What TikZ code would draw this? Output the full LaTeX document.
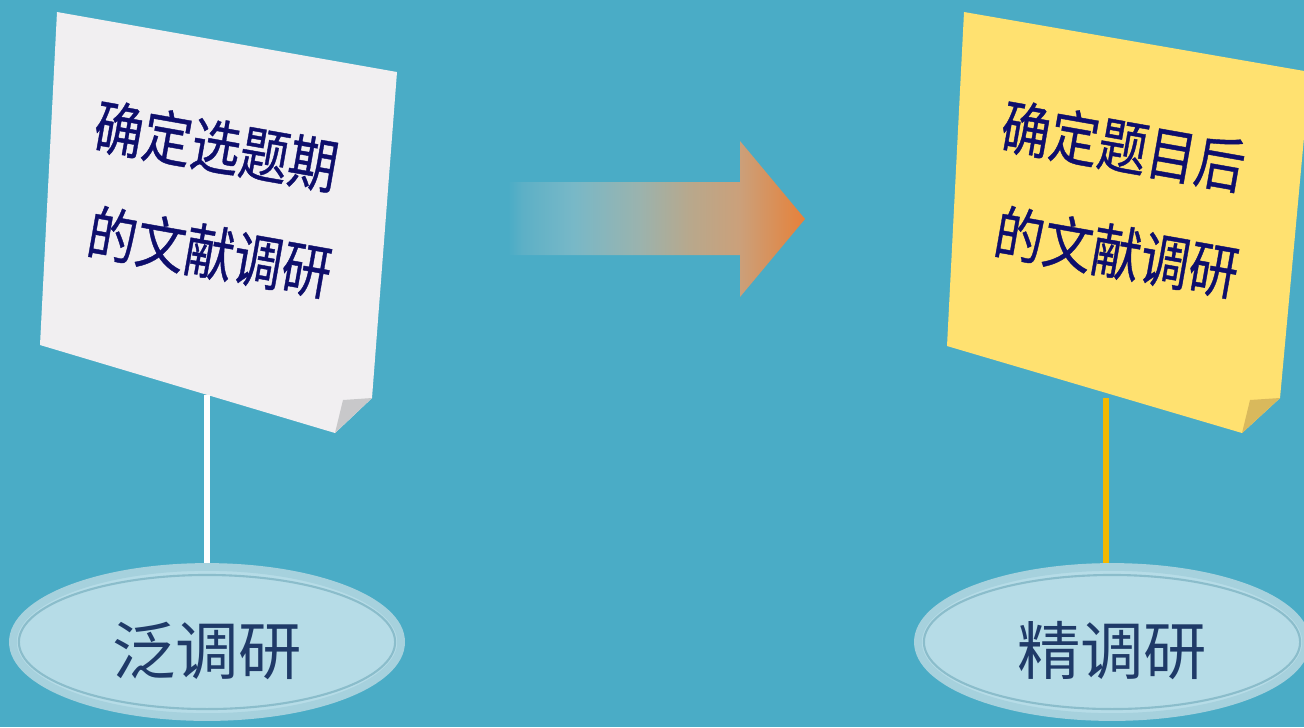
\documentclass[tikz,border=0pt]{standalone}
\usepackage{fontspec}
\setmainfont{Noto Sans CJK SC}
\newfontfamily\notefont{Noto Sans CJK SC}[FakeBold=0.7]
\usepackage{graphicx}
\usepackage{xcolor}
\definecolor{sea}{HTML}{4AACC6}
\definecolor{paper}{HTML}{F1EFF1}
\definecolor{papercurl}{HTML}{C8C8CA}
\definecolor{sticky}{HTML}{FFE170}
\definecolor{stickycurl}{HTML}{D9B95C}
\definecolor{ink}{HTML}{0E0E6C}
\definecolor{plateink}{HTML}{1F3A68}
\definecolor{plate}{HTML}{B6DCE7}
\definecolor{platerim}{HTML}{A6D1DD}
\definecolor{plateline}{HTML}{8BBDCB}
\definecolor{gold}{HTML}{F4B800}
\definecolor{fadeA}{HTML}{5DB0C6}
\definecolor{fadeB}{HTML}{78B8C7}
\definecolor{fadeC}{HTML}{9AB3AE}
\definecolor{fadeD}{HTML}{B8A88C}
\definecolor{fadeE}{HTML}{CBA07A}
\definecolor{fadeF}{HTML}{E08848}
\definecolor{fadeG}{HTML}{E8803A}
\usepackage{tikz}
\usetikzlibrary{shapes.geometric}
\pgfdeclarehorizontalshading{fadearrow}{100bp}{color(0bp)=(sea); color(25bp)=(sea);
  color(27.5bp)=(fadeA); color(36bp)=(fadeB); color(47bp)=(fadeC);
  color(55.6bp)=(fadeD); color(64bp)=(fadeE); color(72.5bp)=(fadeF);
  color(75bp)=(fadeG); color(100bp)=(fadeG)}
\newcommand{\tall}[1]{\scalebox{1}[1.2]{#1}}
\tikzset{
  notetext/.style ={rotate=-10,align=center,text=ink,inner sep=0pt,
                    font=\notefont\fontsize{14}{30}\selectfont},
  plate/.style    ={ellipse,draw=platerim,line width=2.2pt,fill=plate,
                    minimum width=3.88cm,minimum height=1.5cm,inner sep=0pt,
                    text height=0.72cm,text depth=0.08cm,
                    text=plateink,font=\fontsize{18}{20}\selectfont},
  platering/.style={draw=plateline,line width=0.6pt},
  pole/.style     ={line width=1.5pt},
}

\begin{document}
\begin{tikzpicture}[x=0.01cm,y=-0.01cm]
\useasboundingbox (0,0) rectangle (1304,727);
\fill[sea] (0,0) rectangle (1304,727);
%---------------- LEFT: white note
\fill[paper] (57,12) -- (397,72) -- (372,398) -- (335,433) -- (40,345) -- cycle;
\fill[papercurl] (343,400) -- (372,398) -- (335,433) -- cycle;
\node[notetext] (ltext) at (213,199)
  {\tall{确定选题期}\hspace*{0.12cm}\\\hspace*{0.12cm}\tall{的文献调研}};
\node[plate] (lplate) at (207,642) {泛调研};
\draw[platering] (lplate.center) ellipse [x radius=1.88cm,y radius=0.67cm];
\coordinate (lpole) at (207,395);
\draw[pole,white] (lpole) -- (lplate.north);
%---------------- arrow
\shade[shading=fadearrow] (508,182) -- (740,182) -- (740,141) -- (805,219)
  -- (740,297) -- (740,255) -- (508,255) -- cycle;
%---------------- RIGHT: yellow note
\fill[sticky] (964,12) -- (1310,72) -- (1280,398) -- (1242,433) -- (947,346) -- cycle;
\fill[stickycurl] (1250,400) -- (1280,398) -- (1242,433) -- cycle;
\node[notetext] (rtext) at (1120,199)
  {\tall{确定题目后}\hspace*{0.12cm}\\\hspace*{0.12cm}\tall{的文献调研}};
\node[plate] (rplate) at (1112,642) {精调研};
\draw[platering] (rplate.center) ellipse [x radius=1.88cm,y radius=0.67cm];
\coordinate (rpole) at (1106,398);
\draw[pole,gold] (rpole) -- (rplate.north-|rpole);
\end{tikzpicture}
\end{document}
